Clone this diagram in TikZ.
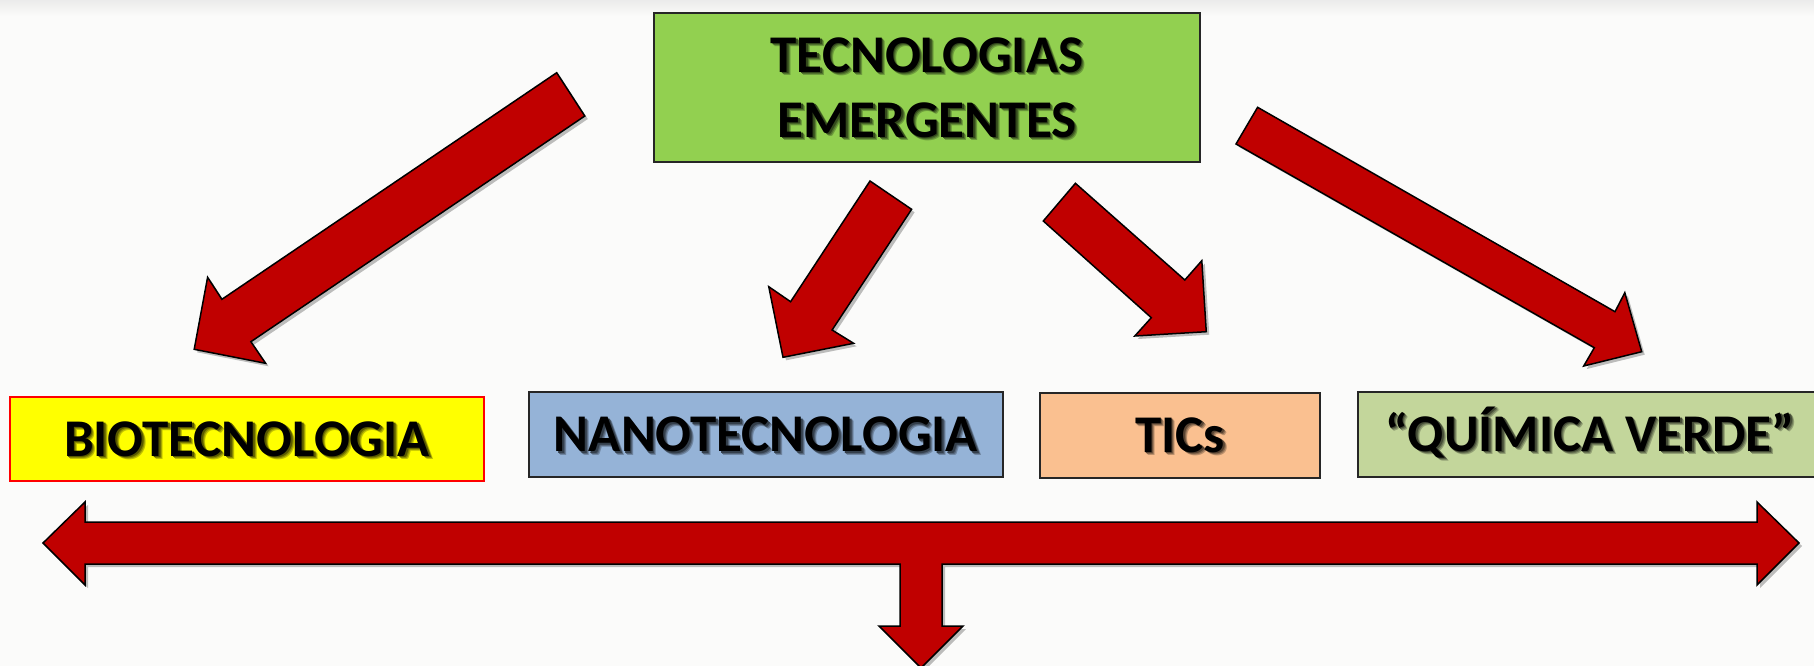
\documentclass[tikz,border=0pt]{standalone}
\usepackage{fontspec}
\setmainfont{Carlito}
\usetikzlibrary{shadows}
\definecolor{topgreen}{HTML}{92D050}
\definecolor{bioyellow}{HTML}{FFFF00}
\definecolor{nanoblue}{HTML}{95B3D7}
\definecolor{ticorange}{HTML}{FAC090}
\definecolor{quimgreen}{HTML}{C3D69B}
\definecolor{arrowred}{HTML}{C00000}
\definecolor{bgpaper}{HTML}{FBFBFA}
\newcommand\shdlayer[3]{\rlap{\smash{\kern#1\raisebox{-#1}{\color{#2}#3}}}}
\newcommand\shd[2][white]{\leavevmode
  \shdlayer{3.5pt}{black!25!#1}{#2}%
  \shdlayer{2.5pt}{black!45!#1}{#2}%
  \shdlayer{1.5pt}{black!65!#1}{#2}%
  #2}
\begin{document}
\begin{tikzpicture}[x=1pt,y=-1pt,
  box/.style={draw=black!85, line width=1.5pt, inner sep=0pt,
    font=\fontsize{53}{65}\selectfont\bfseries},
  oneline/.style={text height=34pt, text depth=0pt},
  blockarrow/.style={fill=arrowred, draw=black, line width=1.5pt, line join=miter,
    drop shadow={shadow xshift=3pt, shadow yshift=-3pt, opacity=0.25, fill=black}},
]
\useasboundingbox (0,0) rectangle (1814,666);
\clip (0,0) rectangle (1814,666);
\fill[bgpaper] (0,0) rectangle (1814,666);
\shade[top color=black!8, bottom color=bgpaper] (0,0) rectangle (1814,16);

% top box
\node[box, fill=topgreen, minimum width=546pt, minimum height=149pt, align=center]
  (top) at (927,87.5) {\shd[topgreen]{TECNOLOGIAS}\\\shd[topgreen]{EMERGENTES}};

% lower boxes
\node[box, oneline, draw=red, fill=bioyellow, minimum width=474pt, minimum height=84pt]
  (bio) at (247,439) {\shd[bioyellow]{BIOTECNOLOGIA}};
\node[box, oneline, fill=nanoblue, minimum width=474pt, minimum height=85pt]
  (nano) at (766,434.5) {\shd[nanoblue]{NANOTECNOLOGIA}};
\node[box, oneline, fill=ticorange, minimum width=280pt, minimum height=85pt]
  (tic) at (1180,435.3) {\shd[ticorange]{TICs}};
\node[box, oneline, fill=quimgreen, minimum width=464pt, minimum height=85pt]
  (quim) at (1590,434.3) {\shd[quimgreen]{“QUÍMICA VERDE”}};

% diagonal block arrows
\draw[blockarrow] (556.7,72.7) -- (584.8,116) -- (250.9,341.7) -- (265.6,363.3)
  -- (194.2,349.3) -- (207.6,277.3) -- (221.9,299.3) -- cycle;
\draw[blockarrow] (870,181) -- (911.6,209.3) -- (832.1,330) -- (853.6,343.3)
  -- (783,357.3) -- (768.75,286.7) -- (790.6,301.7) -- cycle;
\draw[blockarrow] (1075.4,183.3) -- (1184.8,280) -- (1201.8,260.7) -- (1206.25,331.7)
  -- (1134.8,336) -- (1151.3,317.7) -- (1043.3,221) -- cycle;
\draw[blockarrow] (1257.6,107.3) -- (1615,311.7) -- (1624.8,292.7) -- (1641.7,351.7)
  -- (1583.7,366) -- (1594.3,347.7) -- (1236,144) -- cycle;

% horizontal double arrow with downward branch
\draw[blockarrow] (43,543) -- (85,502) -- (85,522) -- (1757,522) -- (1757,502)
  -- (1799,543) -- (1757,585) -- (1757,564) -- (942,564) -- (942,626) -- (963,626)
  -- (921,668) -- (879,626) -- (900,626) -- (900,564) -- (85,564) -- (85,585) -- cycle;
\end{tikzpicture}
\end{document}
